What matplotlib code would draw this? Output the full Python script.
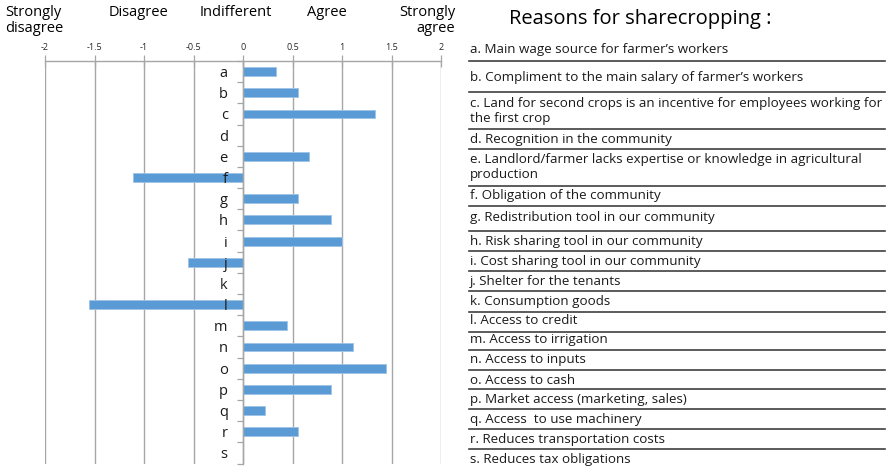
import numpy as np
import matplotlib
matplotlib.use("Agg")
from matplotlib import pyplot as plt
from matplotlib.ticker import FixedLocator

plt.rcParams['font.family'] = ['Open Sans', 'DejaVu Sans']

# data
cats = list("abcdefghijklmnopqrs")
scores = [0.333, 0.556, 1.333, 0.0, 0.667, -1.111, 0.556, 0.889, 1.0,
          -0.556, 0.0, -1.556, 0.444, 1.111, 1.444, 0.889, 0.222, 0.556, 0.0]
xticks = [-2, -1.5, -1, -0.5, 0, 0.5, 1, 1.5, 2]
scale_labels = ["Strongly\ndisagree", "Disagree", "Indifferent", "Agree", "Strongly\nagree"]
reasons = [
    "a. Main wage source for farmer\u2019s workers",
    "b. Compliment to the main salary of farmer\u2019s workers",
    "c. Land for second crops is an incentive for employees working for\nthe first crop",
    "d. Recognition in the community",
    "e. Landlord/farmer lacks expertise or knowledge in agricultural\nproduction",
    "f. Obligation of the community",
    "g. Redistribution tool in our community",
    "h. Risk sharing tool in our community",
    "i. Cost sharing tool in our community",
    "j. Shelter for the tenants",
    "k. Consumption goods",
    "l. Access to credit",
    "m. Access to irrigation",
    "n. Access to inputs",
    "o. Access to cash",
    "p. Market access (marketing, sales)",
    "q. Access  to use machinery",
    "r. Reduces transportation costs",
    "s. Reduces tax obligations",
]

W, H = 886, 472
fig = plt.figure(figsize=(W / 100, H / 100), dpi=100)

ax = fig.add_axes([45 / W, 1 - 463.5 / H, 396 / W, (463.5 - 61) / H])
y = np.arange(len(cats))
for t in xticks:
    ax.axvline(t, color='#A6A6A6', linewidth=1.0, zorder=0.5)
ax.barh(y, scores, height=0.42, color='#5B9BD5', edgecolor='#9DC3E6', linewidth=0.6, zorder=1)
ax.set_axisbelow(False)
ax.set_xlim(-2, 2)
ax.set_ylim(len(cats) - 0.5, -0.5)

ax.set_xticks(xticks)
ax.set_xticklabels([('%g' % t) for t in xticks])
ax.xaxis.tick_top()
ax.tick_params(axis='x', which='major', direction='inout', length=9, width=0.9,
               color='#A6A6A6', labelsize=6.5, pad=2, labelcolor='#262626')

for s in ['right', 'bottom']:
    ax.spines[s].set_visible(False)
ax.spines['top'].set_color('#A6A6A6')
ax.spines['top'].set_linewidth(1.0)
ax.spines['left'].set_position(('data', 0))
ax.spines['left'].set_color('#A6A6A6')
ax.spines['left'].set_linewidth(1.0)

ax.set_yticks(y)
ax.set_yticklabels(cats, fontsize=10.5, color='#1a1a1a')
ax.tick_params(axis='y', which='major', length=0, pad=11)
ax.yaxis.set_minor_locator(FixedLocator(np.arange(len(cats) + 1) - 0.5))
ax.tick_params(axis='y', which='minor', length=4, width=0.9, color='#A6A6A6', direction='out')

# scale labels above axis
fs = 10.5
fig.text(5 / W, 1 - 5 / H, scale_labels[0], ha='left', va='top', fontsize=fs, linespacing=1.1)
fig.text(138 / W, 1 - 5 / H, scale_labels[1], ha='center', va='top', fontsize=fs)
fig.text(236 / W, 1 - 5 / H, scale_labels[2], ha='center', va='top', fontsize=fs)
fig.text(327 / W, 1 - 5 / H, scale_labels[3], ha='center', va='top', fontsize=fs)
fig.text(455 / W, 1 - 5 / H, scale_labels[4], ha='right', va='top', fontsize=fs,
         multialignment='right', linespacing=1.1)

# right panel
fig.text(640 / W, 1 - 19 / H, "Reasons for sharecropping :", ha='center', va='center', fontsize=14.5)
text_y = [50, 77, 111, 140, 167, 196, 218, 241, 261, 281, 301, 321, 340, 360, 380, 400, 420, 440, 460]
line_y = [61, 92, 129, 148.5, 186, 206, 231, 251, 271, 291, 312, 332, 350, 370, 389, 409, 429, 449]
for t, ty in zip(reasons, text_y):
    fig.text(470 / W, 1 - ty / H, t, ha='left', va='center', fontsize=9.6, linespacing=1.25,
             color='#1a1a1a')
for ly in line_y:
    fig.add_artist(plt.Line2D([469 / W, 885 / W], [1 - ly / H, 1 - ly / H],
                              color='#404040', linewidth=1.2, transform=fig.transFigure))

fig.savefig('out.png', dpi=100)
